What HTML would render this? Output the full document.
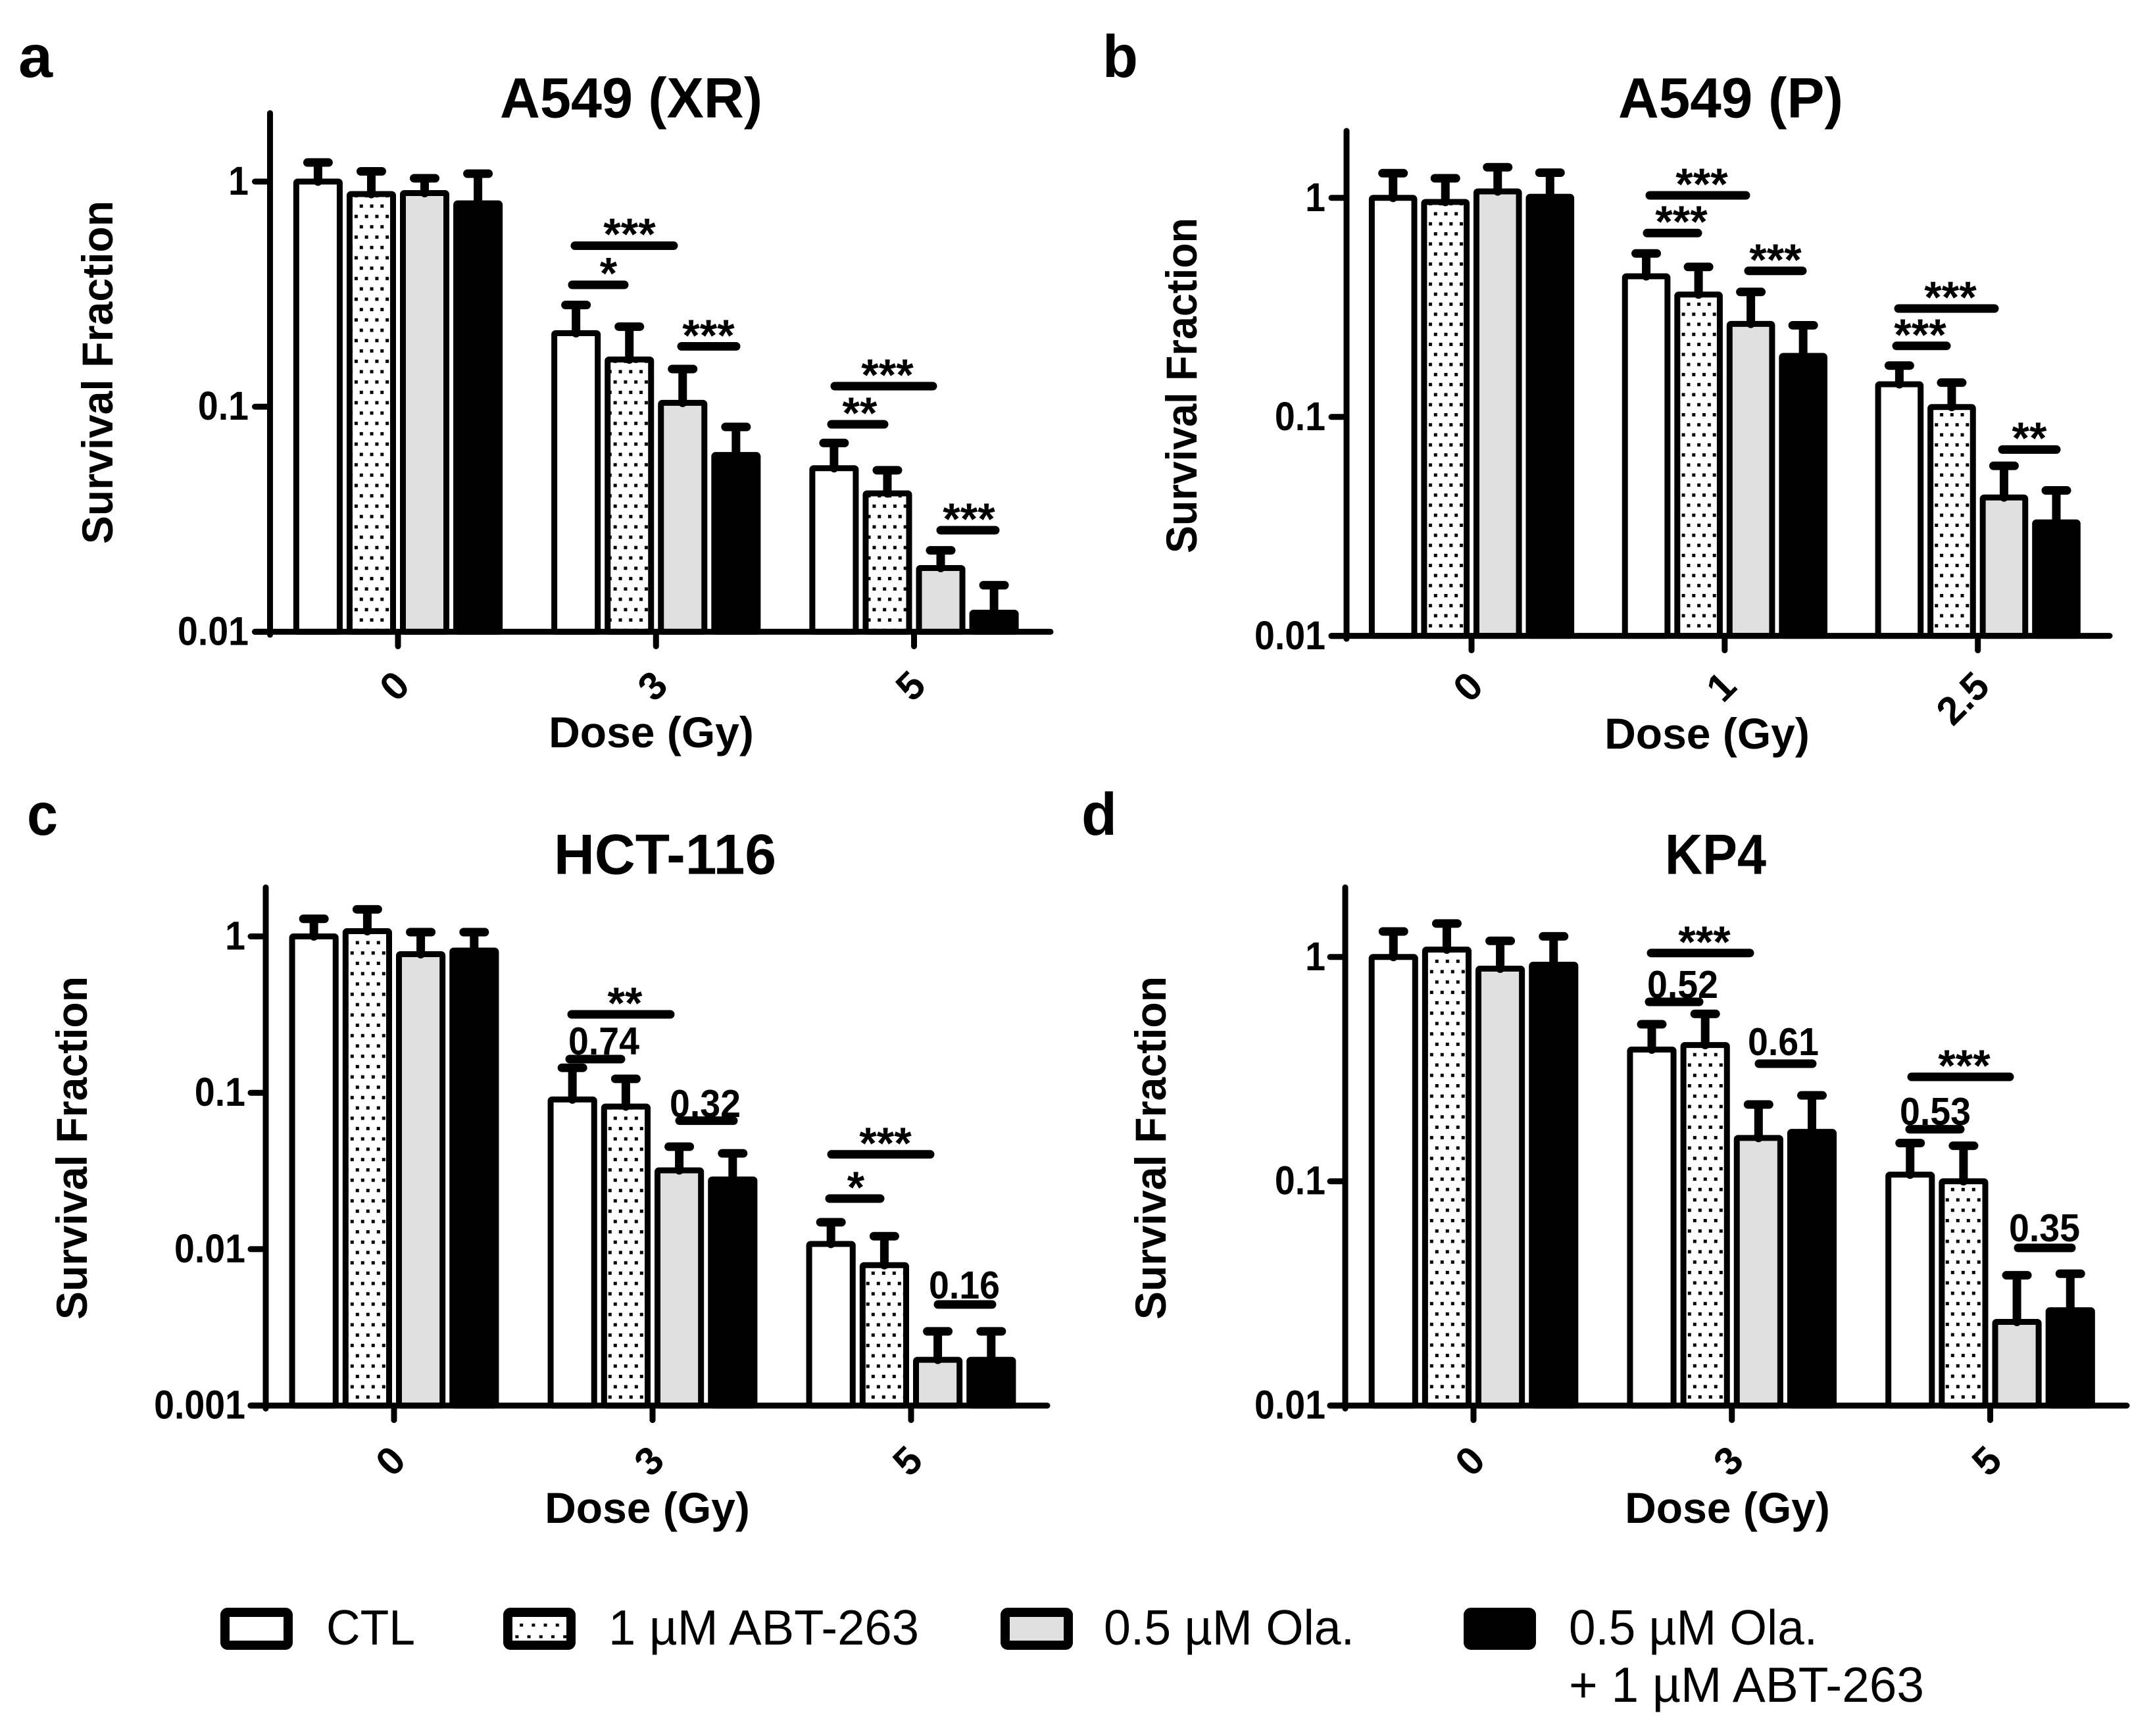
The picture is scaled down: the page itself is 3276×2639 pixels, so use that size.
<!DOCTYPE html>
<html lang="en">
<head>
<meta charset="utf-8">
<title>Survival fraction by dose in four cell lines</title>
<style>
html,body{margin:0;padding:0;background:#fff;}
svg{display:block;}
text{font-family:"Liberation Sans",Arial,sans-serif;fill:#000;}
.sig{font-size:68px;font-weight:700;text-anchor:middle;}
.p{font-size:59px;font-weight:700;text-anchor:middle;}
.br{stroke:#000;stroke-width:13;stroke-linecap:round;}
.axt{font-size:66px;font-weight:700;text-anchor:middle;}
.ttl{font-size:86px;font-weight:700;}
.ltr{font-size:91px;font-weight:700;}
.lg{font-size:75px;}
</style>
</head>
<body>
<svg id="fig" xmlns="http://www.w3.org/2000/svg" width="3276" height="2639" viewBox="0 0 3276 2639">
<defs>
<pattern id="dotsA" patternUnits="userSpaceOnUse" width="15.75" height="31.46" patternTransform="translate(546.8 310.8)"><rect width="5" height="5"/><rect x="-7.875" y="15.73" width="5" height="5"/><rect x="7.875" y="15.73" width="5" height="5"/></pattern>
<pattern id="dotsB" patternUnits="userSpaceOnUse" width="15.7" height="30.55" patternTransform="translate(2179.8 322.5)"><rect width="5" height="5"/><rect x="-7.85" y="15.27" width="5" height="5"/><rect x="7.85" y="15.27" width="5" height="5"/></pattern>
<pattern id="dotsC" patternUnits="userSpaceOnUse" width="16" height="31.4" patternTransform="translate(540.8 1430.5)"><rect width="5" height="5"/><rect x="-8" y="15.7" width="5" height="5"/><rect x="8" y="15.7" width="5" height="5"/></pattern>
<pattern id="dotsD" patternUnits="userSpaceOnUse" width="16" height="31.54" patternTransform="translate(2181.8 1458.8)"><rect width="5" height="5"/><rect x="-8" y="15.77" width="5" height="5"/><rect x="8" y="15.77" width="5" height="5"/></pattern>
<pattern id="dotsL" patternUnits="userSpaceOnUse" width="18.2" height="35.2" patternTransform="translate(790.2 2468.2)"><rect width="5" height="4.5"/><rect x="11.4" y="17.6" width="5" height="4.5"/></pattern>
</defs>
<rect width="3276" height="2639" fill="#fff"/>

<text class="ltr" x="28" y="117" textLength="52" lengthAdjust="spacingAndGlyphs">a</text>
<text class="ltr" x="1676" y="117" textLength="54" lengthAdjust="spacingAndGlyphs">b</text>
<text class="ltr" x="41" y="1269" textLength="47" lengthAdjust="spacingAndGlyphs">c</text>
<text class="ltr" x="1644" y="1269" textLength="54" lengthAdjust="spacingAndGlyphs">d</text>

<text class="ttl" x="760" y="178.5" textLength="399" lengthAdjust="spacingAndGlyphs">A549 (XR)</text>
<text class="ttl" x="2460" y="178.5" textLength="342" lengthAdjust="spacingAndGlyphs">A549 (P)</text>
<text class="ttl" x="842" y="1328.5" textLength="338" lengthAdjust="spacingAndGlyphs">HCT-116</text>
<text class="ttl" x="2531" y="1328.5" textLength="154" lengthAdjust="spacingAndGlyphs">KP4</text>

<text class="axt" x="990" y="1136">Dose (Gy)</text>
<text class="axt" x="2595" y="1138">Dose (Gy)</text>
<text class="axt" x="984" y="2315">Dose (Gy)</text>
<text class="axt" x="2626" y="2315">Dose (Gy)</text>

<text class="axt" transform="translate(171 566) rotate(-90)" textLength="522" lengthAdjust="spacingAndGlyphs">Survival Fraction</text>
<text class="axt" transform="translate(1819 586) rotate(-90)" textLength="510" lengthAdjust="spacingAndGlyphs">Survival Fraction</text>
<text class="axt" transform="translate(132 1745) rotate(-90)" textLength="522" lengthAdjust="spacingAndGlyphs">Survival Fraction</text>
<text class="axt" transform="translate(1772 1745) rotate(-90)" textLength="522" lengthAdjust="spacingAndGlyphs">Survival Fraction</text>

<g id="panelA"></g>
<g id="panelB"></g>
<g id="panelC"></g>
<g id="panelD"></g>

<g id="annotations">
<g><line class="br" x1="874" x2="1024" y1="373.5" y2="373.5"/><text class="sig" x="957" y="379">***</text></g>
<g><line class="br" x1="870" x2="949" y1="433" y2="433"/><text class="sig" x="925" y="438.5">*</text></g>
<g><line class="br" x1="1036" x2="1119" y1="526.5" y2="526.5"/><text class="sig" x="1077" y="533">***</text></g>
<g><line class="br" x1="1269" x2="1418" y1="587" y2="587"/><text class="sig" x="1349" y="593">***</text></g>
<g><line class="br" x1="1264" x2="1344" y1="645" y2="645"/><text class="sig" x="1307" y="651">**</text></g>
<g><line class="br" x1="1430" x2="1513" y1="806" y2="806"/><text class="sig" x="1473" y="812">***</text></g>

<g><line class="br" x1="2508" x2="2654" y1="297" y2="297"/><text class="sig" x="2587" y="303">***</text></g>
<g><line class="br" x1="2504" x2="2581" y1="354.3" y2="354.3"/><text class="sig" x="2556" y="360">***</text></g>
<g><line class="br" x1="2658" x2="2740" y1="411.7" y2="411.7"/><text class="sig" x="2699" y="418">***</text></g>
<g><line class="br" x1="2886" x2="3032" y1="469" y2="469"/><text class="sig" x="2965" y="475">***</text></g>
<g><line class="br" x1="2883" x2="2959" y1="525.8" y2="525.8"/><text class="sig" x="2919" y="532">***</text></g>
<g><line class="br" x1="3044" x2="3126" y1="683.4" y2="683.4"/><text class="sig" x="3085" y="689">**</text></g>

<g><line class="br" x1="869" x2="1019" y1="1542" y2="1542"/><text class="sig" x="950" y="1548">**</text></g>
<g><line class="br" x1="866" x2="944" y1="1610" y2="1610"/><text class="p" x="918" y="1603" textLength="108" lengthAdjust="spacingAndGlyphs">0.74</text></g>
<g><line class="br" x1="1033" x2="1115" y1="1703.6" y2="1703.6"/><text class="p" x="1072" y="1698" textLength="108" lengthAdjust="spacingAndGlyphs">0.32</text></g>
<g><line class="br" x1="1264" x2="1414" y1="1754.8" y2="1754.8"/><text class="sig" x="1346" y="1761">***</text></g>
<g><line class="br" x1="1261" x2="1338" y1="1822" y2="1822"/><text class="sig" x="1301" y="1828">*</text></g>
<g><line class="br" x1="1426" x2="1508" y1="1983" y2="1983"/><text class="p" x="1466" y="1974" textLength="108" lengthAdjust="spacingAndGlyphs">0.16</text></g>

<g><line class="br" x1="2510" x2="2660" y1="1448.7" y2="1448.7"/><text class="sig" x="2591" y="1455">***</text></g>
<g><line class="br" x1="2507" x2="2583" y1="1523" y2="1523"/><text class="p" x="2558" y="1517" textLength="108" lengthAdjust="spacingAndGlyphs">0.52</text></g>
<g><line class="br" x1="2674" x2="2755" y1="1617" y2="1617"/><text class="p" x="2711" y="1604" textLength="108" lengthAdjust="spacingAndGlyphs">0.61</text></g>
<g><line class="br" x1="2906" x2="3055" y1="1637" y2="1637"/><text class="sig" x="2986" y="1643">***</text></g>
<g><line class="br" x1="2903" x2="2980" y1="1716.6" y2="1716.6"/><text class="p" x="2942" y="1710" textLength="108" lengthAdjust="spacingAndGlyphs">0.53</text></g>
<g><line class="br" x1="3068" x2="3149" y1="1897" y2="1897"/><text class="p" x="3108" y="1887" textLength="108" lengthAdjust="spacingAndGlyphs">0.35</text></g>
</g>

<g id="legend">
<g>
<rect x="342" y="2451" width="96" height="50" rx="4" fill="#fff" stroke="#000" stroke-width="14"/>
<text class="lg" x="496" y="2500" textLength="135" lengthAdjust="spacingAndGlyphs">CTL</text>
</g>
<g>
<rect x="772" y="2451" width="96" height="50" rx="4" fill="url(#dotsL)" stroke="#000" stroke-width="14"/>
<text class="lg" x="925" y="2500" textLength="472" lengthAdjust="spacingAndGlyphs">1 µM ABT-263</text>
</g>
<g>
<rect x="1528" y="2451" width="96" height="50" rx="4" fill="#e0e0e0" stroke="#000" stroke-width="14"/>
<text class="lg" x="1678" y="2500" textLength="381" lengthAdjust="spacingAndGlyphs">0.5 µM Ola.</text>
</g>
<g>
<rect x="2232" y="2451" width="96" height="50" rx="4" fill="#000" stroke="#000" stroke-width="14"/>
<text class="lg" x="2385" y="2500" textLength="378" lengthAdjust="spacingAndGlyphs">0.5 µM Ola.</text>
<text class="lg" x="2385" y="2587" textLength="540" lengthAdjust="spacingAndGlyphs">+ 1 µM ABT-263</text>
</g>
</g>
</svg>

<script>
// Series order shared by all panels
const seriesNames = ['ctl', 'abt-263', 'olaparib', 'combo'];

// Panel a: A549 (XR)
const categoriesA = ['0', '3', '5'];
const yTicksA = [1, 0.1, 0.01];
const yTickLabelsA = ['1', '0.1', '0.01'];
const meansA_ctl = [1, 0.212, 0.0533];
const meansA_abt = [0.88, 0.162, 0.0412];
const meansA_ola = [0.889, 0.104, 0.0192];
const meansA_combo = [0.80, 0.061, 0.01216];
const upperA_ctl = [1.215, 0.283, 0.069];
const upperA_abt = [1.11, 0.2267, 0.0522];
const upperA_ola = [1.034, 0.147, 0.023];
const upperA_combo = [1.084, 0.0813, 0.0161];

// Panel b: A549 (P)
const categoriesB = ['0', '1', '2.5'];
const yTicksB = [1, 0.1, 0.01];
const yTickLabelsB = ['1', '0.1', '0.01'];
const meansB_ctl = [1, 0.4385, 0.141];
const meansB_abt = [0.958, 0.362, 0.111];
const meansB_ola = [1.07, 0.266, 0.0429];
const meansB_combo = [1.012, 0.19, 0.033];
const upperB_ctl = [1.296, 0.5575, 0.1716];
const upperB_abt = [1.229, 0.484, 0.1434];
const upperB_ola = [1.38, 0.372, 0.0598];
const upperB_combo = [1.303, 0.262, 0.0462];

// Panel c: HCT-116
const categoriesC = ['0', '3', '5'];
const yTicksC = [1, 0.1, 0.01, 0.001];
const yTickLabelsC = ['1', '0.1', '0.01', '0.001'];
const meansC_ctl = [1, 0.0906, 0.0108];
const meansC_abt = [1.08, 0.0817, 0.0079];
const meansC_ola = [0.77, 0.0319, 0.00196];
const meansC_combo = [0.812, 0.0279, 0.00196];
const upperC_ctl = [1.296, 0.1445, 0.01486];
const upperC_abt = [1.49, 0.1228, 0.0121];
const upperC_ola = [1.065, 0.0452, 0.00298];
const upperC_combo = [1.065, 0.041, 0.00298];

// Panel d: KP4
const categoriesD = ['0', '3', '5'];
const yTicksD = [1, 0.1, 0.01];
const yTickLabelsD = ['1', '0.1', '0.01'];
const meansD_ctl = [1, 0.3866, 0.107];
const meansD_abt = [1.079, 0.405, 0.1];
const meansD_ola = [0.887, 0.156, 0.0236];
const meansD_combo = [0.924, 0.166, 0.0266];
const upperD_ctl = [1.30, 0.5013, 0.148];
const upperD_abt = [1.41, 0.5576, 0.144];
const upperD_ola = [1.18, 0.22, 0.0381];
const upperD_combo = [1.236, 0.2415, 0.0387];

const NS = 'http://www.w3.org/2000/svg';

function mk(tag, attrs, parent) {
  const el = document.createElementNS(NS, tag);
  for (const k in attrs) el.setAttribute(k, attrs[k]);
  parent.appendChild(el);
  return el;
}

function labelWidth(s, size) {
  let em = 0;
  for (const ch of s) em += ch === '.' ? 0.278 : 0.556;
  return em * size * 0.91;
}

function drawPanel(cfg) {
  const root = document.getElementById(cfg.id);
  const yScale = v => cfg.yOne - Math.log10(v) * cfg.decade;
  const pitch = (cfg.xTicks2 - cfg.xTicks0) / (cfg.categories.length - 1);
  const xScale = i => cfg.xTicks0 + i * pitch;
  const offset = [-0.31, -0.1033, 0.1033, 0.31];
  const barW = pitch * 0.1913 - 9;
  const base = cfg.baseline;
  const fills = ['#fff', 'url(#' + cfg.pattern + ')', '#e0e0e0', '#000'];

  // bars first, error bars on top
  cfg.means.forEach((series, s) => {
    series.forEach((val, g) => {
      const cx = xScale(g) + offset[s] * pitch;
      const top = yScale(val);
      const bar = mk('rect', {x: cx - barW / 2, y: top, width: barW, height: base - top, rx: 2,
        fill: fills[s], stroke: '#000', 'stroke-width': 9, 'stroke-linejoin': 'round'}, root);
      
      
      bar.setAttribute('data-series', seriesNames[s]);
      bar.setAttribute('data-dose', cfg.categories[g]);
    });
  });
  cfg.means.forEach((series, s) => {
    series.forEach((val, g) => {
      const cx = xScale(g) + offset[s] * pitch;
      const top = yScale(val);
      const capY = yScale(cfg.uppers[s][g]);
      const err = mk('path', {d: 'M' + cx + ' ' + top + 'V' + capY + 'M' + (cx - 16) + ' ' + capY + 'H' + (cx + 16),
        fill: 'none', stroke: '#000', 'stroke-width': 13, 'stroke-linecap': 'round'}, root);
      
      
    });
  });

  // y axis
  const yAxis = mk('line', {x1: cfg.axisX, x2: cfg.axisX, y1: cfg.axisTop, y2: base + 4.5, stroke: '#000', 'stroke-width': 9, 'stroke-linecap': 'round'}, root);
  
  
  cfg.yTicks.forEach((v, i) => {
    const y = yScale(v);
    const tick = mk('line', {x1: cfg.axisX - 23, x2: cfg.axisX, y1: y, y2: y, stroke: '#000', 'stroke-width': 9, 'stroke-linecap': 'round'}, root);
    
    
    const text = cfg.yTickLabels[i];
    const label = mk('text', {x: cfg.yLabelX, y: y + 20, 'text-anchor': 'end', 'font-size': 61, 'font-weight': 700,
      textLength: labelWidth(text, 61), lengthAdjust: 'spacingAndGlyphs'}, root);
    label.textContent = text;
    
    
  });

  // x axis
  const xAxis = mk('line', {x1: cfg.axisX - 23, x2: cfg.axisRight, y1: base, y2: base, stroke: '#000', 'stroke-width': 9, 'stroke-linecap': 'round'}, root);
  
  
  cfg.categories.forEach((c, g) => {
    const x = xScale(g);
    const tick = mk('line', {x1: x, x2: x, y1: base, y2: base + 22, stroke: '#000', 'stroke-width': 9, 'stroke-linecap': 'round'}, root);
    
    
    const ax = x + 21;
    const ay = base + cfg.xLabelDy;
    const label = mk('text', {x: ax, y: ay, 'text-anchor': 'end', 'font-size': 60, 'font-weight': 700,
      transform: 'rotate(-45 ' + ax + ' ' + ay + ')'}, root);
    label.textContent = c;
    
    
  });
}

drawPanel({
  id: 'panelA', pattern: 'dotsA', categories: categoriesA, yTicks: yTicksA, yTickLabels: yTickLabelsA,
  means: [meansA_ctl, meansA_abt, meansA_ola, meansA_combo],
  uppers: [upperA_ctl, upperA_abt, upperA_ola, upperA_combo],
  yOne: 276, decade: 342.2, baseline: 960.4, xTicks0: 605, xTicks2: 1389.5,
  axisX: 410.5, axisTop: 172, axisRight: 1597, yLabelX: 378, xLabelDy: 85
});
drawPanel({
  id: 'panelB', pattern: 'dotsB', categories: categoriesB, yTicks: yTicksB, yTickLabels: yTickLabelsB,
  means: [meansB_ctl, meansB_abt, meansB_ola, meansB_combo],
  uppers: [upperB_ctl, upperB_abt, upperB_ola, upperB_combo],
  yOne: 300.8, decade: 333, baseline: 966.6, xTicks0: 2237, xTicks2: 3006.7,
  axisX: 2047, axisTop: 199, axisRight: 3207, yLabelX: 2015, xLabelDy: 80
});
drawPanel({
  id: 'panelC', pattern: 'dotsC', categories: categoriesC, yTicks: yTicksC, yTickLabels: yTickLabelsC,
  means: [meansC_ctl, meansC_abt, meansC_ola, meansC_combo],
  uppers: [upperC_ctl, upperC_abt, upperC_ola, upperC_combo],
  yOne: 1423.5, decade: 237.7, baseline: 2136.7, xTicks0: 599, xTicks2: 1385,
  axisX: 404, axisTop: 1349, axisRight: 1592, yLabelX: 373, xLabelDy: 87
});
drawPanel({
  id: 'panelD', pattern: 'dotsD', categories: categoriesD, yTicks: yTicksD, yTickLabels: yTickLabelsD,
  means: [meansD_ctl, meansD_abt, meansD_ola, meansD_combo],
  uppers: [upperD_ctl, upperD_abt, upperD_ola, upperD_combo],
  yOne: 1454.8, decade: 340.9, baseline: 2136.7, xTicks0: 2240, xTicks2: 3025.5,
  axisX: 2045, axisTop: 1349, axisRight: 3233, yLabelX: 2015, xLabelDy: 87
});
</script>
</body>
</html>
